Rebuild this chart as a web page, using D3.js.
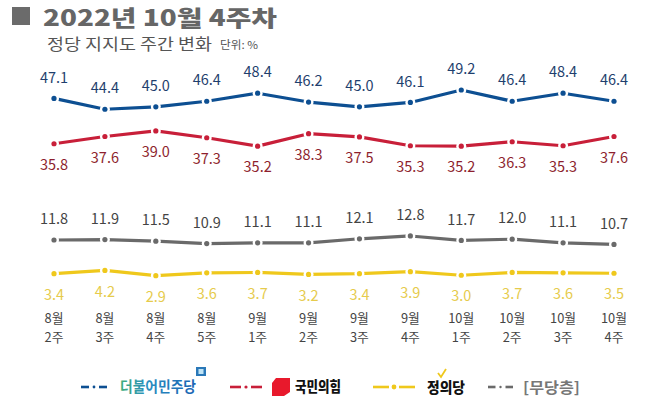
<!DOCTYPE html>
<html><head><meta charset="utf-8">
<script src="https://cdn.jsdelivr.net/npm/d3@7"></script>
<style>
html,body{margin:0;padding:0;background:#fff;}
svg{display:block;}
text{font-family:"Noto Sans CJK KR","Noto Sans",sans-serif;}
</style></head>
<body><svg id="c" width="658" height="406"></svg>
<script>
const months = ["8월","8월","8월","8월","9월","9월","9월","9월","10월","10월","10월","10월"];
const weeks  = ["2주","3주","4주","5주","1주","2주","3주","4주","1주","2주","3주","4주"];
const democratic = [47.1,44.4,45.0,46.4,48.4,46.2,45.0,46.1,49.2,46.4,48.4,46.4];
const ppp        = [35.8,37.6,39.0,37.3,35.2,38.3,37.5,35.3,35.2,36.3,35.3,37.6];
const independent= [11.8,11.9,11.5,10.9,11.1,11.1,12.1,12.8,11.7,12.0,11.1,10.7];
const justice    = [3.4,4.2,2.9,3.6,3.7,3.2,3.4,3.9,3.0,3.7,3.6,3.5];
const seriesNames = ["더불어민주당","국민의힘","정의당","[무당층]"];

const svg = d3.select("#c");
const idx = d3.range(months.length);
const x = d3.scalePoint().domain(idx).range([54, 614]);
const y = d3.scaleLinear().domain([0, 50]).range([287.3, 86.8]);

// Title
svg.append("rect").attr("x",12).attr("y",7).attr("width",18).attr("height",18).attr("fill","#6b6b6b");
svg.append("text").attr("x",43).attr("y",26).attr("font-size",22).attr("font-weight",900)
  .attr("textLength",234).attr("lengthAdjust","spacingAndGlyphs")
  .attr("fill","#666").text("2022년 10월 4주차");
svg.append("text").attr("x",47).attr("y",50.3).attr("font-size",15.5).attr("fill","#555")
  .attr("textLength",165).attr("lengthAdjust","spacingAndGlyphs")
  .text("정당 지지도 주간 변화");
svg.append("text").attr("x",220).attr("y",48.5).attr("font-size",11).attr("fill","#555")
  .attr("textLength",38).attr("lengthAdjust","spacingAndGlyphs")
  .text("단위: %");

const series = [
  {vals: democratic, line:"#0d4f92", lab:"#1f3f6e", pos:-1},
  {vals: ppp, line:"#c81f39", lab:"#8e1f2e", pos:1},
  {vals: independent, line:"#6a6a6a", lab:"#444", pos:-1},
  {vals: justice, line:"#efc81c", lab:"#e6cb4c", pos:1}
];

const lineGen = d3.line().x((d,i)=>x(i)).y(d=>y(d));
series.forEach(s=>{
  svg.append("path").datum(s.vals).attr("d",lineGen).attr("fill","none")
    .attr("stroke",s.line).attr("stroke-width",3.2).attr("stroke-linejoin","round");
  const g = svg.append("g");
  g.selectAll("circle.w").data(s.vals).join("circle").attr("class","w")
    .attr("cx",(d,i)=>x(i)).attr("cy",d=>y(d)).attr("r",5).attr("fill","#fff");
  g.selectAll("circle.d").data(s.vals).join("circle").attr("class","d")
    .attr("cx",(d,i)=>x(i)).attr("cy",d=>y(d)).attr("r",2.6).attr("fill",s.line);
  g.selectAll("text").data(s.vals).join("text")
    .attr("x",(d,i)=>x(i)).attr("y",d=>y(d)+s.pos*21)
    .attr("dy","0.36em").attr("text-anchor","middle").attr("font-size",14.5)
    .attr("fill",s.lab).text(d=>d.toFixed(1));
});

// x labels (two lines per category)
const xg = svg.append("g");
const xt = xg.selectAll("text").data(idx).join("text")
  .attr("text-anchor","middle").attr("font-size",12.8).attr("fill","#444");
xt.append("tspan").attr("x",i=>x(i)).attr("y",323).text(i=>months[i]);
xt.append("tspan").attr("x",i=>x(i)).attr("y",341.5).text(i=>weeks[i]);

// Legend
const defs = svg.append("defs");
const grad = defs.append("linearGradient").attr("id","dg").attr("x1","0").attr("x2","1");
grad.append("stop").attr("offset","0").attr("stop-color","#3fae7a");
grad.append("stop").attr("offset","0.35").attr("stop-color","#2a8fc0");
grad.append("stop").attr("offset","1").attr("stop-color","#1b63b3");

const ly = 387;
function legendMark(x0, x1, color, dotR){
  const L = svg.append("g");
  const mid = (x0+x1)/2;
  L.append("line").attr("x1",x0).attr("x2",mid-5).attr("y1",ly).attr("y2",ly).attr("stroke",color).attr("stroke-width",2.6);
  L.append("line").attr("x1",mid+5).attr("x2",x1).attr("y1",ly).attr("y2",ly).attr("stroke",color).attr("stroke-width",2.6);
  L.append("circle").attr("cx",mid).attr("cy",ly).attr("r",dotR).attr("fill",color);
}
legendMark(81,107,"#0d4f92",1.4);
legendMark(230,262,"#c81f39",1.6);
legendMark(373,415,"#efc81c",2.4);
legendMark(488,513,"#6a6a6a",1.2);

svg.append("text").attr("x",120).attr("y",ly).attr("dy","0.36em").attr("font-size",15).attr("font-weight",700)
  .attr("textLength",76).attr("lengthAdjust","spacingAndGlyphs")
  .attr("fill","url(#dg)").text(seriesNames[0]);
svg.append("rect").attr("x",196).attr("y",367).attr("width",10).attr("height",9).attr("fill","#2a78b8");
svg.append("rect").attr("x",198.5).attr("y",369).attr("width",5).attr("height",5).attr("fill","#bfe3f5");

svg.append("path").attr("d","M276,378 L290,378 L290,392 L284,396 L272,396 L272,383 Z").attr("fill","#e8192c");
svg.append("text").attr("x",295).attr("y",ly).attr("dy","0.36em").attr("font-size",14.5).attr("font-weight",900)
  .attr("textLength",46).attr("lengthAdjust","spacingAndGlyphs")
  .attr("fill","#111").text(seriesNames[1]);

svg.append("text").attr("x",427).attr("y",ly+1).attr("dy","0.36em").attr("font-size",14.5).attr("font-weight",900)
  .attr("textLength",38).attr("lengthAdjust","spacingAndGlyphs")
  .attr("fill","#111").text(seriesNames[2]);
svg.append("path").attr("d","M438,373 L441,377 L446,369").attr("fill","none").attr("stroke","#efc81c").attr("stroke-width",1.8);

svg.append("text").attr("x",523).attr("y",ly+1).attr("dy","0.36em").attr("font-size",15).attr("font-weight",700)
  .attr("textLength",57).attr("lengthAdjust","spacingAndGlyphs")
  .attr("fill","#777").text(seriesNames[3]);
</script></body></html>
